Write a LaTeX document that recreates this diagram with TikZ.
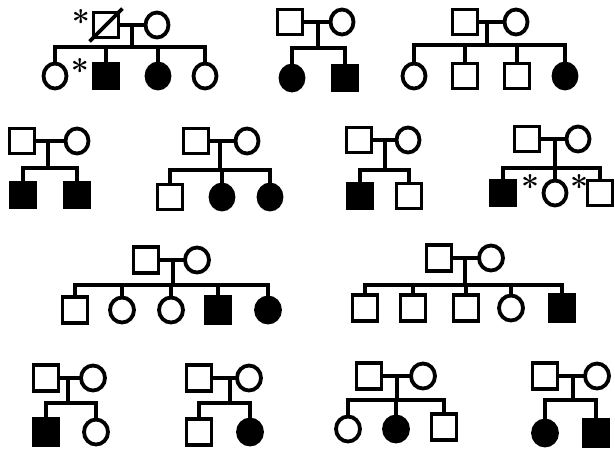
\documentclass[tikz,border=0pt]{standalone}
\usetikzlibrary{shapes.geometric}
\begin{document}
\begin{tikzpicture}[x=1pt,y=-1pt,
  base/.style={draw=black, line width=3.8pt, inner sep=0pt, fill=white},
  male/.style={base, rectangle},
  fem/.style={base, ellipse},
  aff/.style={fill=black},
  sa/.style={minimum width=25pt, minimum height=25pt},
  ca/.style={minimum width=23pt, minimum height=25pt},
  sb/.style={minimum width=25pt, minimum height=26pt},
  cb/.style={minimum width=24pt, minimum height=25pt},
  ln/.style={line width=3.8pt, draw=black},
  star/.style={inner sep=0pt, font=\fontsize{32}{32}\selectfont\bfseries}
]
\useasboundingbox (0,0) rectangle (615,453);

% ---------- Pedigree 1 ----------
\coordinate (j1) at (132,47);
\draw[ln] (106,25) -- (157,25);
\draw[ln] (j1 |- 0,25) -- (j1);
\node[male,sa] (f1) at (106,25) {};
\node[fem,ca] (m1) at (157,25) {};
\draw[ln] ([shift={(-2,2)}]f1.south west) -- ([shift={(2,-2)}]f1.north east);
\node[fem,ca] (a1) at (55,76) {};
\node[male,sa,aff] (a2) at (106,76) {};
\node[fem,ca,aff] (a3) at (158,76) {};
\node[fem,ca] (a4) at (205,76) {};
\draw[ln] (a1.north) |- (j1) -| (a4.north);
\draw[ln] (a2.north) -- (a2.north |- j1);
\draw[ln] (a3.north) -- (a3.north |- j1);
\node[star] (s1) at (81,21) {*};
\node[star] (s2) at (80,70) {*};

% ---------- Pedigree 2 ----------
\coordinate (j2) at (318,48);
\draw[ln] (290,22) -- (342,22);
\draw[ln] (j2 |- 0,22) -- (j2);
\node[male,sa] (f2) at (290,22) {};
\node[fem,ca] (m2) at (342,22) {};
\node[fem,ca,aff] (b1) at (292,78) {};
\node[male,sa,aff] (b2) at (345,78) {};
\draw[ln] (b1.north) |- (j2) -| (b2.north);

% ---------- Pedigree 3 ----------
\coordinate (j3) at (487,45);
\draw[ln] (465,22) -- (516,22);
\draw[ln] (j3 |- 0,22) -- (j3);
\node[male,sa] (f3) at (465,22) {};
\node[fem,ca] (m3) at (516,22) {};
\node[fem,ca] (d1) at (414,76) {};
\node[male,sa] (d2) at (465,76) {};
\node[male,sa] (d3) at (517,76) {};
\node[fem,ca,aff] (d4) at (565,76) {};
\draw[ln] (d1.north) |- (j3) -| (d4.north);
\draw[ln] (d2.north) -- (d2.north |- j3);
\draw[ln] (d3.north) -- (d3.north |- j3);

% ---------- Pedigree 4 ----------
\coordinate (j4) at (48,168);
\draw[ln] (22,141) -- (77,141);
\draw[ln] (j4 |- 0,141) -- (j4);
\node[male,sa] (f4) at (22,141) {};
\node[fem,ca] (m4) at (77,141) {};
\node[male,sa,aff] (e1) at (23,195) {};
\node[male,sa,aff] (e2) at (77,195) {};
\draw[ln] (e1.north) |- (j4) -| (e2.north);

% ---------- Pedigree 5 ----------
\coordinate (j5) at (220,170);
\draw[ln] (196,141) -- (247,141);
\draw[ln] (j5 |- 0,141) -- (j5);
\node[male,sa] (f5) at (196,141) {};
\node[fem,ca] (m5) at (247,141) {};
\node[male,sa] (g1) at (170,197) {};
\node[fem,ca,aff] (g2) at (222,197) {};
\node[fem,ca,aff] (g3) at (270,197) {};
\draw[ln] (g1.north) |- (j5) -| (g3.north);
\draw[ln] (g2.north) -- (g2.north |- j5);

% ---------- Pedigree 6 ----------
\coordinate (j6) at (385,170);
\draw[ln] (359,140) -- (408,140);
\draw[ln] (j6 |- 0,140) -- (j6);
\node[male,sa] (f6) at (359,140) {};
\node[fem,ca] (m6) at (408,140) {};
\node[male,sa,aff] (h1) at (360,196) {};
\node[male,sa] (h2) at (409,196) {};
\draw[ln] (h1.north) |- (j6) -| (h2.north);

% ---------- Pedigree 7 ----------
\coordinate (j7) at (555,168);
\draw[ln] (527,139) -- (578,139);
\draw[ln] (j7 |- 0,139) -- (j7);
\node[male,sa] (f7) at (527,139) {};
\node[fem,ca] (m7) at (578,139) {};
\node[male,sa,aff] (k1) at (503,193) {};
\node[fem,ca] (k2) at (555,193) {};
\node[male,sa] (k3) at (600,193) {};
\draw[ln] (k1.north) |- (j7) -| (k3.north);
\draw[ln] (k2.north) -- (k2.north |- j7);
\node[star] (s3) at (530,186) {*};
\node[star] (s4) at (579,186) {*};

% ---------- Pedigree 8 ----------
\coordinate (j8) at (173,285);
\draw[ln] (146,260) -- (197,260);
\draw[ln] (j8 |- 0,260) -- (j8);
\node[male,sb] (f8) at (146,260) {};
\node[fem,cb] (m8) at (197,260) {};
\node[male,sb] (n1) at (75,310) {};
\node[fem,cb] (n2) at (122,310) {};
\node[fem,cb] (n3) at (171,310) {};
\node[male,sb,aff] (n4) at (218,310) {};
\node[fem,cb,aff] (n5) at (268,310) {};
\draw[ln] (n1.north) |- (j8) -| (n5.north);
\draw[ln] (n2.north) -- (n2.north |- j8);
\draw[ln] (n3.north) -- (n3.north |- j8);
\draw[ln] (n4.north) -- (n4.north |- j8);

% ---------- Pedigree 9 ----------
\coordinate (j9) at (465,285);
\draw[ln] (439,258) -- (491,258);
\draw[ln] (j9 |- 0,258) -- (j9);
\node[male,sb] (f9) at (439,258) {};
\node[fem,cb] (m9) at (491,258) {};
\node[male,sb] (p1) at (365,308) {};
\node[male,sb] (p2) at (413,308) {};
\node[male,sb] (p3) at (466,308) {};
\node[fem,cb] (p4) at (511,308) {};
\node[male,sb,aff] (p5) at (562,308) {};
\draw[ln] (p1.north) |- (j9) -| (p5.north);
\draw[ln] (p2.north) -- (p2.north |- j9);
\draw[ln] (p3.north) -- (p3.north |- j9);
\draw[ln] (p4.north) -- (p4.north |- j9);

% ---------- Pedigree 10 ----------
\coordinate (j10) at (68,403);
\draw[ln] (46,378) -- (93,378);
\draw[ln] (j10 |- 0,378) -- (j10);
\node[male,sb] (f10) at (46,378) {};
\node[fem,cb] (m10) at (93,378) {};
\node[male,sb,aff] (q1) at (46,432) {};
\node[fem,cb] (q2) at (96,432) {};
\draw[ln] (q1.north) |- (j10) -| (q2.north);

% ---------- Pedigree 11 ----------
\coordinate (j11) at (230,403);
\draw[ln] (199,378) -- (249,378);
\draw[ln] (j11 |- 0,378) -- (j11);
\node[male,sb] (f11) at (199,378) {};
\node[fem,cb] (m11) at (249,378) {};
\node[male,sb] (r1) at (199,432) {};
\node[fem,cb,aff] (r2) at (250,432) {};
\draw[ln] (r1.north) |- (j11) -| (r2.north);

% ---------- Pedigree 12 ----------
\coordinate (j12) at (397,400);
\draw[ln] (369,376) -- (423,376);
\draw[ln] (j12 |- 0,376) -- (j12);
\node[male,sb] (f12) at (369,376) {};
\node[fem,cb] (m12) at (423,376) {};
\node[fem,cb] (t1) at (348,429) {};
\node[fem,cb,aff] (t2) at (396,429) {};
\node[male,sb] (t3) at (444,427) {};
\draw[ln] (t1.north) |- (j12) -| (t3.north);
\draw[ln] (t2.north) -- (t2.north |- j12);

% ---------- Pedigree 13 ----------
\coordinate (j13) at (573,400);
\draw[ln] (545,376) -- (597,376);
\draw[ln] (j13 |- 0,376) -- (j13);
\node[male,sb] (f13) at (545,376) {};
\node[fem,cb] (m13) at (597,376) {};
\node[fem,cb,aff] (u1) at (545,433) {};
\node[male,sb,aff] (u2) at (596,433) {};
\draw[ln] (u1.north) |- (j13) -| (u2.north);
\end{tikzpicture}
\end{document}
